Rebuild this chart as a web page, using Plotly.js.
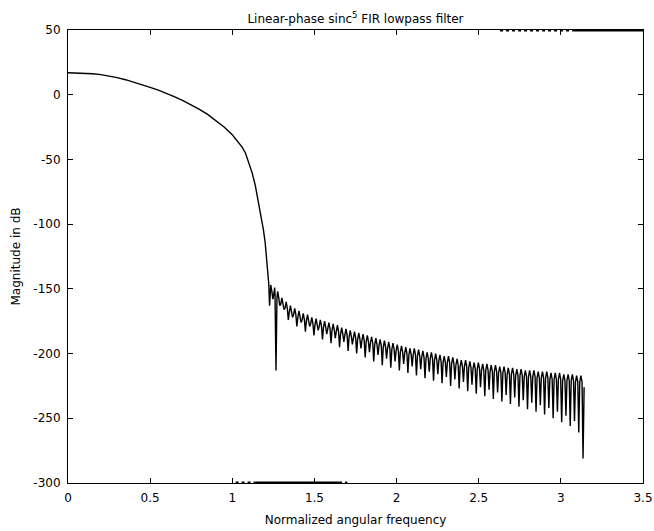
<!DOCTYPE html>
<html>
<head>
<meta charset="utf-8">
<script src="https://cdn.plot.ly/plotly-3.0.1.min.js"></script>
<style>html,body{margin:0;padding:0;background:#fff;}#chart{width:654px;height:531px;}</style>
</head>
<body>
<div id="chart"></div>
<script>
// Passband and transition (normalized angular frequency, dB)
const passX = [0, 0.05, 0.10, 0.15, 0.20, 0.25, 0.30, 0.35, 0.40, 0.45, 0.50, 0.55, 0.60, 0.65, 0.70, 0.75, 0.80, 0.85, 0.90, 0.95, 1.00, 1.03, 1.06, 1.08, 1.10, 1.12, 1.14, 1.158, 1.175, 1.189, 1.200, 1.209, 1.216, 1.222];
const passY = [17, 16.9, 16.6, 16.2, 15.5, 14.5, 13.2, 11.6, 9.8, 7.8, 5.7, 3.5, 1.1, -1.6, -4.6, -7.8, -11.3, -15.2, -19.8, -25, -31, -35.5, -40.5, -45, -52, -60, -70, -82, -93, -104, -114, -125.5, -137, -146];

// Stopband: first five transition points, then alternating lobe peaks (even) and nulls (odd)
const stopX = [1.227,1.234,1.247,1.258,1.266,
1.276,1.289,1.302,1.315,1.328,1.341,1.354,1.367,1.380,1.393,1.406,1.419,1.432,1.445,1.458,1.471,1.484,1.497,1.510,1.523,
1.536,1.549,1.562,1.575,1.588,1.601,1.614,1.627,1.640,1.653,1.666,1.679,1.692,1.705,1.718,1.731,1.744,1.757,1.770,1.783,
1.796,1.809,1.822,1.835,1.848,1.861,1.874,1.887,1.900,1.913,1.926,1.939,1.952,1.965,1.978,1.991,2.004,2.017,2.030,2.043,
2.056,2.069,2.082,2.095,2.108,2.121,2.134,2.147,2.160,2.173,2.186,2.199,2.212,2.225,2.238,2.251,2.264,2.277,2.290,2.303,
2.316,2.329,2.342,2.355,2.368,2.381,2.394,2.407,2.420,2.433,2.446,2.459,2.472,2.485,2.498,2.511,2.524,2.537,2.550,2.563,
2.576,2.589,2.602,2.615,2.628,2.641,2.654,2.667,2.680,2.693,2.706,2.719,2.732,2.745,2.758,2.771,2.784,2.797,2.810,2.823,
2.836,2.849,2.862,2.875,2.888,2.901,2.914,2.927,2.940,2.953,2.966,2.979,2.992,3.005,3.018,3.031,3.044,3.057,3.070,3.083,
3.096,3.109,3.122,3.135,3.1416];
const stopY = [-163,-147,-158,-149,-213,
-152,-163,-157,-166,-160,-174,-163,-172,-165,-179,-167,-176,-169,-183,-170,-179,-172,-186,-173,-182,
-174,-189,-175,-185,-176,-192,-177,-188,-178,-195,-180,-191,-181,-198,-182,-193,-183,-200,-184,-196,
-185,-203,-186,-199,-187,-206,-188,-201,-189,-209,-190,-204,-191,-211,-192,-206,-193,-213,-194,-208,
-195,-215,-196,-210,-196,-217,-197,-212,-198,-219,-199,-214,-199,-221,-200,-216,-201,-223,-202,-218,
-202,-225,-203,-220,-204,-227,-205,-222,-205,-229,-206,-224,-207,-231,-207,-226,-208,-233,-208,-228,
-209,-235,-209,-230,-210,-237,-210,-232,-211,-239,-211,-234,-212,-241,-212,-236,-213,-243,-213,-238,
-213,-245,-214,-240,-214,-247,-214,-242,-215,-250,-215,-245,-215,-253,-216,-248,-216,-256,-216,-252,
-217,-261,-217,-281,-226];

// Thickened frame segments seen in the original figure
const topEdgeX = [3.08, 3.5];
const topEdgeY = [50, 50];
const topDotsX = [2.63, 3.08];
const topDotsY = [50, 50];
const botEdgeX = [1.14, 1.65];
const botEdgeY = [-300, -300];
const botDotsX = [1.02, 1.14, null, 1.65, 1.70];
const botDotsY = [-300, -300, null, -300, -300];

const xTickVals = [0, 0.5, 1, 1.5, 2, 2.5, 3, 3.5];
const xTickText = ['0', '0.5', '1', '1.5', '2', '2.5', '3', '3.5'];
const yTickVals = [50, 0, -50, -100, -150, -200, -250, -300];
const yTickText = ['50', '0', '-50', '-100', '-150', '-200', '-250', '-300'];

// Build the drawn path: lobes have broad tops and narrow null spikes
const SPIKE_HALF = 0.006; // visual half-width of a null spike (rad)
const SHOULDER = 5;       // dB below neighbouring peaks where a spike starts
const curveX = passX.slice();
const curveY = passY.slice();
for (let i = 0; i < stopX.length; i++) {
  const isNull = (i < 5) ? (i % 2 === 0) : ((i - 5) % 2 === 1);
  if (isNull && i > 0 && i < stopX.length - 1) {
    const prevY = stopY[i - 1], nextY = stopY[i + 1];
    curveX.push(stopX[i] - SPIKE_HALF, stopX[i], stopX[i] + SPIKE_HALF);
    curveY.push(prevY - SHOULDER, stopY[i], nextY - SHOULDER);
  } else {
    curveX.push(stopX[i]);
    curveY.push(stopY[i]);
  }
}

const fontFam = 'DejaVu Sans, sans-serif';

const traces = [
  {x: curveX, y: curveY, type: 'scatter', mode: 'lines',
   line: {color: '#000', width: 1.4}, hoverinfo: 'skip'},
  {x: topEdgeX, y: topEdgeY, type: 'scatter', mode: 'lines', line: {color: '#000', width: 3}, hoverinfo: 'skip'},
  {x: topDotsX, y: topDotsY, type: 'scatter', mode: 'lines', line: {color: '#000', width: 3, dash: 'dot'}, hoverinfo: 'skip'},
  {x: botEdgeX, y: botEdgeY, type: 'scatter', mode: 'lines', line: {color: '#000', width: 3}, hoverinfo: 'skip'},
  {x: botDotsX, y: botDotsY, type: 'scatter', mode: 'lines', line: {color: '#000', width: 3, dash: 'dot'}, hoverinfo: 'skip'}
];

const axisCommon = {
  showline: true, linecolor: '#000', linewidth: 1, mirror: 'ticks',
  ticks: 'inside', ticklen: 5, tickwidth: 1, tickcolor: '#000',
  showgrid: false, zeroline: false,
  tickfont: {family: fontFam, size: 12, color: '#000'}
};

const layout = {
  width: 654, height: 531,
  margin: {l: 68, r: 11, t: 30, b: 48, pad: 0},
  paper_bgcolor: '#fff', plot_bgcolor: '#fff',
  showlegend: false,
  font: {family: fontFam, size: 12, color: '#000'},
  title: {text: 'Linear-phase sinc<sup>5</sup> FIR lowpass filter', x: 0.5, xref: 'paper',
          y: 1 - 19/531, yref: 'container', yanchor: 'middle',
          font: {family: fontFam, size: 12, color: '#000'}},
  xaxis: Object.assign({}, axisCommon, {
    range: [0, 3.5], tickvals: xTickVals, ticktext: xTickText, ticklabelstandoff: 4,
    title: {text: 'Normalized angular frequency', standoff: 11, font: {family: fontFam, size: 12, color: '#000'}}
  }),
  yaxis: Object.assign({}, axisCommon, {
    range: [-300, 50], tickvals: yTickVals, ticktext: yTickText, ticklabelstandoff: 4,
    title: {text: 'Magnitude in dB', standoff: 10, font: {family: fontFam, size: 12, color: '#000'}}
  })
};

Plotly.newPlot('chart', traces, layout, {displayModeBar: false, staticPlot: true});
</script>
</body>
</html>
